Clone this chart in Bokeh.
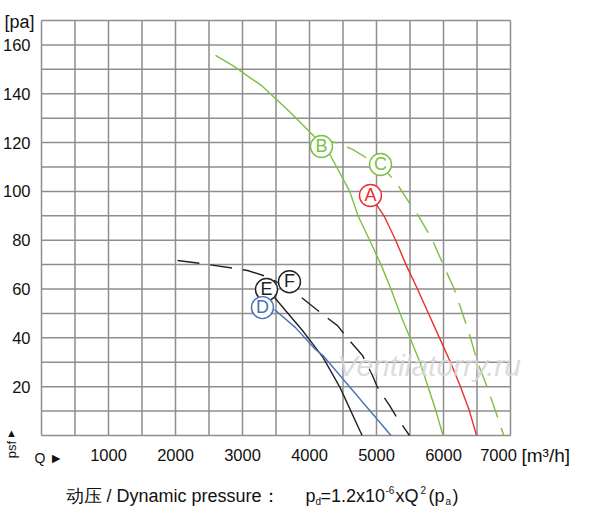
import math

from bokeh.plotting import figure
from bokeh.models import Range1d
from bokeh.core.properties import value
from bokeh.embed import file_html
from bokeh.resources import INLINE

font = "Liberation Sans"
green = "#7ac143"
red = "#ee2d2d"
blue = "#4a70b8"
black = "#222222"
grid_color = "#8e8e8e"
text_color = "#111111"

# curve readings: flow [m3/h] / static pressure [pa]
flow_a = [4910, 5112, 5286, 5440, 5612, 5776, 5940, 6104, 6254, 6388, 6493]
pres_a = [98.3, 90, 80, 70, 60, 50, 40, 30, 20, 10, 0]

flow_b = [2597, 2851, 3300, 3716, 4090, 4313, 4600, 4724, 4898, 5067, 5216, 5351, 5500, 5649, 5769, 5888, 5993]
pres_b = [155.7, 151.6, 143.0, 132.3, 122.0, 114.7, 100.0, 90, 80, 70, 60, 50, 40, 30, 20, 10, 0]

flow_c = [4090, 4388, 4642, 4895, 5060, 5313, 5507, 5627, 5836, 5995, 6160, 6284, 6403, 6507, 6650, 6776, 6900]
pres_c = [122, 120, 117.2, 113, 111, 102.8, 94.6, 90, 80, 70, 60, 50, 40, 30, 20, 10, 0]

flow_d = [3478, 3791, 4089, 4201, 4709, 5216]
pres_d = [51.6, 44.2, 35.2, 32.8, 16.4, 0]

flow_e = [3478, 3895, 3985, 4201, 4455, 4785]
pres_e = [56.5, 43.0, 39.8, 32.0, 19.7, 0]

flow_f = [2030, 2373, 2896, 3075, 3403, 3821, 4194, 4418, 4597, 4791, 4940, 5015, 5194, 5284, 5492]
pres_f = [71.7, 70.5, 68.4, 67.6, 64.7, 57.8, 49.7, 45.0, 38.9, 32.8, 24.6, 19.7, 12.3, 8.2, 0]

marker_names = ["B", "C", "A", "F", "E", "D"]
marker_flow = [4179, 5060, 4910, 3701, 3358, 3298]
marker_pres = [118.4, 111, 98.3, 63, 59.8, 52.4]
marker_colors = [green, green, red, black, black, blue]

x_max, y_max = 7000, 170
grid_x = list(range(0, 7001, 500))
grid_y = list(range(0, 171, 10))
x_label_ticks = [1000, 2000, 3000, 4000, 5000, 6000, 7000]
y_label_ticks = [20, 40, 60, 80, 100, 120, 140, 160]

# layout: chart area inside a 584x508 canvas
W, H = 584, 508
left, right, top, bottom = 41, 74, 20, 73
dx = x_max / (W - left - right)
dy = y_max / (H - top - bottom)

p = figure(width=W, height=H, output_backend="svg", toolbar_location=None,
           x_axis_type=None, y_axis_type=None,
           x_range=Range1d(-left * dx, x_max + right * dx),
           y_range=Range1d(-bottom * dy, y_max + top * dy),
           min_border=0, min_border_left=0, min_border_right=0,
           min_border_top=0, min_border_bottom=0)
p.outline_line_color = None
p.background_fill_color = "white"
p.border_fill_color = "white"

# grid
p.segment(x0=grid_x, y0=[0] * len(grid_x), x1=grid_x, y1=[y_max] * len(grid_x),
          line_color=grid_color, line_width=1.5)
p.segment(x0=[0] * len(grid_y), y0=grid_y, x1=[x_max] * len(grid_y), y1=grid_y,
          line_color=grid_color, line_width=1.5)


def txt(xs, ys, texts, size="16px", align="left", baseline="alphabetic", **kw):
    kw.setdefault("text_color", text_color)
    p.text(x=xs, y=ys, text=texts, text_font=value(font), text_font_size=size,
           text_align=align, text_baseline=baseline, **kw)


def ref(px, py):
    # reference picture pixel -> data coordinates
    return (px - 49) * dx, (443 - py) * dy


# tick labels
x_lab_pos = [t - (12 * dx if t == x_max else 0) for t in x_label_ticks]
txt(x_lab_pos, [-13 * dy] * len(x_label_ticks), [str(t) for t in x_label_ticks],
    size="16.5px", align="center", baseline="top")
txt([-11 * dx] * len(y_label_ticks), y_label_ticks, [str(t) for t in y_label_ticks],
    size="16.5px", align="right", baseline="middle")

# curves
p.line(flow_b, pres_b, color=green, line_width=1.4)
p.line(flow_c, pres_c, color=green, line_width=1.4, line_dash="22 11")
p.line(flow_a, pres_a, color=red, line_width=1.4)
p.line(flow_f, pres_f, color=black, line_width=1.4, line_dash="22 11")
p.line(flow_e, pres_e, color=black, line_width=1.4)
p.line(flow_d, pres_d, color=blue, line_width=1.4)

# curve tags
for name, q, pr, c in zip(marker_names, marker_flow, marker_pres, marker_colors):
    p.scatter([q], [pr], size=22, fill_color="white", line_color=c, line_width=1.4)
    txt([q], [pr + 0.3], [name], size="18px", align="center", baseline="middle", text_color=c)

# watermark
x, y = ref(345, 373)
txt([x], [y], ["Ventilatorry.ru"], size="30px", text_font_style="italic",
    text_color="#d6d6d6", text_alpha=0.85)

# axis units and markers
x, y = ref(42, 29)
txt([x], [y], ["[pa]"], size="18px", align="right", baseline="middle")
x, y = ref(529, 463)
txt([x], [y], ["[m³/h]"], size="19px", baseline="middle")
x, y = ref(42, 465)
txt([x], [y], ["Q ►"], size="14px", baseline="middle")
x, y = ref(19, 440)
txt([x], [y], ["▲"], size="11px", align="center", baseline="middle")
x, y = ref(19, 457)
txt([x], [y], ["psf"], size="13px", align="center", baseline="middle", angle=math.pi / 2)

# footer formula
footer = [
    ("动压 / Dynamic pressure：", 73, 503, "18px"),
    ("p", 313, 503, "18px"),
    ("d", 323, 509, "10px"),
    ("=1.2x10", 328, 503, "18px"),
    ("-6", 393, 497, "10px"),
    ("xQ", 403, 503, "18px"),
    ("2", 428, 497, "10px"),
    ("(p", 436, 503, "18px"),
    ("a", 453, 509, "10px"),
    (")", 460, 503, "18px"),
]
for t, px, py, size in footer:
    x, y = ref(px, py)
    txt([x], [y], [t], size=size)

open("out.html", "w").write(file_html(p, INLINE))
